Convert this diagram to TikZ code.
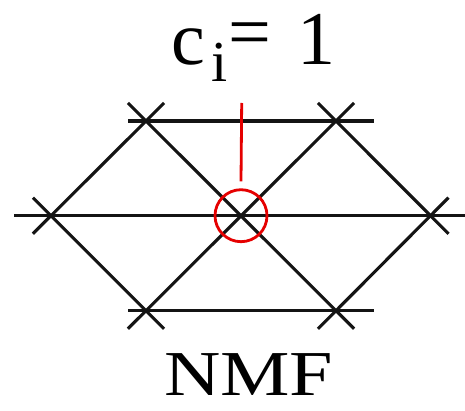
\documentclass[tikz,border=0pt]{standalone}
\usepackage{fontspec}
\setmainfont{Liberation Serif}
\begin{document}
\begin{tikzpicture}[x=1pt,y=-1pt,
  lat/.style={line width=3.1pt,draw=black!92},
  ext/.style={lat,shorten <=-25.5pt,shorten >=-25.5pt},
  redmark/.style={line width=2.8pt,draw=red!90!black},
  lbl/.style={inner sep=0pt,outer sep=0pt}]
\useasboundingbox (0,0) rectangle (465,411);
% lattice points
\coordinate (C) at (241,215.7);
\coordinate (L) at (51,215.7);
\coordinate (R) at (430.5,215.7);
\coordinate (TL) at (146,121);
\coordinate (TR) at (336,121);
\coordinate (BL) at (146,310.7);
\coordinate (BR) at (336,310.7);
\coordinate (ML) at (14,215.7);
\coordinate (MR) at (465,215.7);
\coordinate (TLs) at (128,121);
\coordinate (TRe) at (374,121);
\coordinate (BLs) at (128,310.7);
\coordinate (BRe) at (374,310.7);
% horizontals
\draw[lat] (ML) -- (MR);
\draw[lat] (TLs) -- (TRe);
\draw[lat] (BLs) -- (BRe);
% diagonals
\draw[ext] (L) -- (TL);
\draw[ext] (L) -- (BL);
\draw[ext] (R) -- (TR);
\draw[ext] (R) -- (BR);
\draw[ext] (TL) -- (BR);
\draw[ext] (TR) -- (BL);
% red marker
\node[redmark,circle,minimum size=52pt,inner sep=0pt] (ring) at (C) {};
\coordinate (top) at (241.7,103);
\draw[redmark] (top) -- ([yshift=7pt]ring.north);
% labels
\node[lbl,anchor=base west] (c) at (171,65) {\fontsize{76pt}{76pt}\selectfont c};
\node[lbl,anchor=base west] (i) at (211,82) {\fontsize{58pt}{58pt}\selectfont i};
\node[lbl,anchor=base] (eq) at (250,58) {\fontsize{76pt}{76pt}\selectfont =};
\node[lbl,anchor=base west] (one) at (297,65) {\fontsize{76pt}{76pt}\selectfont 1};
\node[lbl,anchor=base west] (nmf) at (164,395) {\fontsize{64pt}{64pt}\selectfont\scalebox{1.22}[1]{NMF}};
\end{tikzpicture}
\end{document}
